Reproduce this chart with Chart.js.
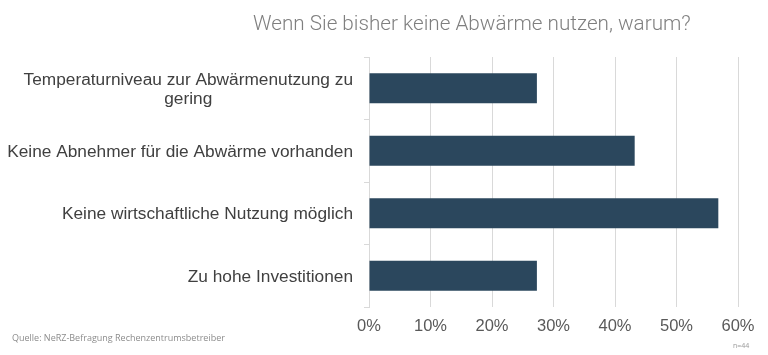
<!DOCTYPE html>
<html>
<head>
<meta charset="utf-8">
<script src="https://cdn.jsdelivr.net/npm/chart.js@4/dist/chart.umd.min.js"></script>
<style>
html,body{margin:0;padding:0;background:#fff;}
#wrap{position:relative;width:768px;height:355px;}
</style>
</head>
<body>
<div id="wrap"><canvas id="c" width="768" height="355"></canvas></div>
<script>
const titleText = 'Wenn Sie bisher keine Abwärme nutzen, warum?';
const sourceText = 'Quelle: NeRZ-Befragung Rechenzentrumsbetreiber';
const noteText = 'n=44';
const categories = [
  ['Temperaturniveau zur Abwärmenutzung zu', 'gering'],
  ['Keine Abnehmer für die Abwärme vorhanden'],
  ['Keine wirtschaftliche Nutzung möglich'],
  ['Zu hohe Investitionen']
];
const values = [27.3, 43.2, 56.8, 27.3];
const xTicks = [0, 10, 20, 30, 40, 50, 60];

const labelFont = '17.3px "Liberation Sans", Arial, sans-serif';

const textPlugin = {
  id: 'texts',
  afterDraw(chart) {
    const ctx = chart.ctx;
    const y = chart.scales.y;
    ctx.save();
    // category labels: block right-aligned, lines centred within block
    ctx.font = labelFont;
    ctx.fillStyle = '#404040';
    ctx.textAlign = 'center';
    ctx.textBaseline = 'middle';
    const rightEdge = 353;
    const lh = 19;
    categories.forEach((lines, i) => {
      const cy = y.getPixelForValue(i);
      const w = Math.max(...lines.map(l => ctx.measureText(l).width));
      const cx = rightEdge - w / 2;
      const y0 = cy - (lines.length - 1) * lh / 2;
      lines.forEach((l, k) => ctx.fillText(l, cx, y0 + k * lh + 1));
    });
    // title
    ctx.textAlign = 'left';
    ctx.textBaseline = 'alphabetic';
    ctx.font = '300 20.7px Roboto, sans-serif';
    ctx.fillStyle = '#7f7f7f';
    ctx.fillText(titleText, 253, 30);
    // source
    ctx.font = '9px "Open Sans", sans-serif';
    ctx.fillStyle = '#8c8c8c';
    ctx.fillText(sourceText, 12, 341);
    // note
    ctx.font = '7px "Open Sans", sans-serif';
    ctx.fillStyle = '#9a9a9a';
    ctx.fillText(noteText, 733, 348);
    ctx.restore();
  }
};

new Chart(document.getElementById('c'), {
  type: 'bar',
  data: {
    labels: categories.map(c => c.join(' ')),
    datasets: [{
      data: values,
      backgroundColor: '#2B475D',
      borderWidth: 0,
      categoryPercentage: 1.0,
      barPercentage: 0.48
    }]
  },
  options: {
    indexAxis: 'y',
    responsive: false,
    animation: false,
    devicePixelRatio: 1,
    layout: { padding: { top: 57, right: 30, left: 0, bottom: 0 } },
    plugins: { legend: { display: false }, title: { display: false }, tooltip: { enabled: false } },
    scales: {
      x: {
        min: 0, max: 60,
        afterFit(s) { s.height = 48; },
        afterBuildTicks(s) { s.ticks = xTicks.map(v => ({ value: v })); },
        ticks: {
          padding: 10,
          color: '#595959',
          font: { family: '"Liberation Sans", Arial, sans-serif', size: 16.5 },
          callback: v => v + '%'
        },
        grid: { color: '#d9d9d9', drawTicks: false, lineWidth: 1 },
        border: { display: false }
      },
      y: {
        afterFit(s) { s.width = 369; },
        ticks: { display: false },
        grid: { drawOnChartArea: false, drawTicks: true, tickLength: 5, color: '#d9d9d9', offset: true },
        border: { display: true, color: '#d9d9d9', width: 1 }
      }
    }
  },
  plugins: [textPlugin]
});
</script>
</body>
</html>
